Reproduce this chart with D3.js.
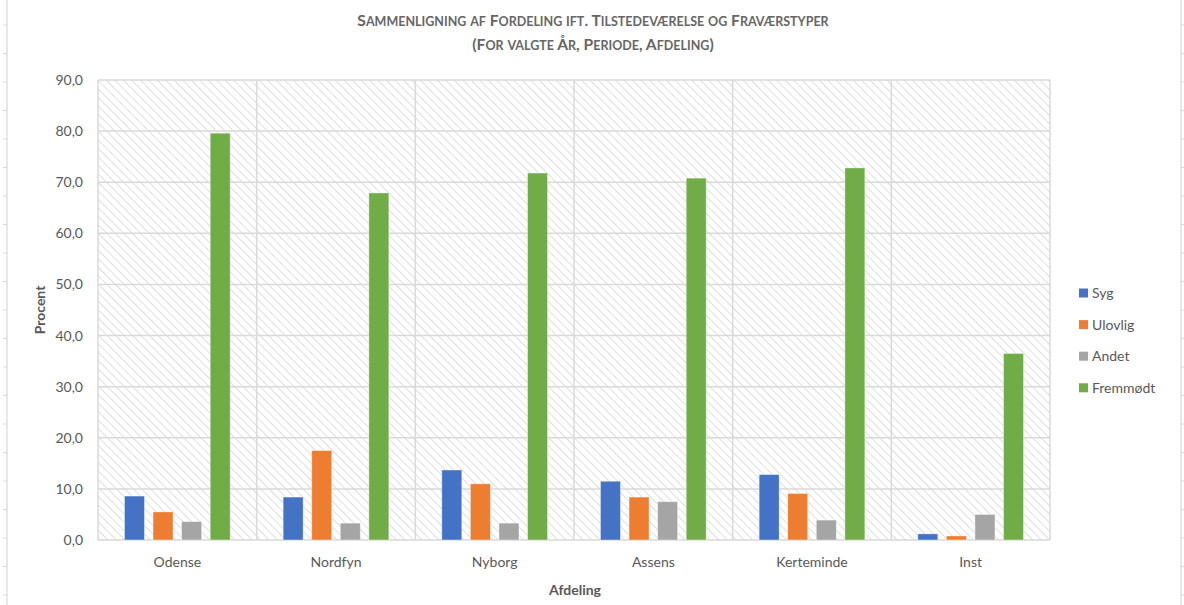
<!DOCTYPE html>
<html>
<head>
<meta charset="utf-8">
<script src="https://cdn.jsdelivr.net/npm/d3@7/dist/d3.min.js"></script>
<style>
html,body{margin:0;padding:0;background:#fff;}
svg{display:block;}
text{font-family:Lato,"Open Sans",sans-serif;}
</style>
</head>
<body>
<svg id="chart" width="1184" height="605"></svg>
<script>
const categories = ["Odense","Nordfyn","Nyborg","Assens","Kerteminde","Inst"];
const seriesNames = ["Syg","Ulovlig","Andet","Fremmødt"];
const seriesColors = ["#4472C4","#ED7D31","#A5A5A5","#70AD47"];
const syg      = [8.6, 8.4, 13.7, 11.5, 12.8, 1.2];
const ulovlig  = [5.5, 17.5, 11.0, 8.4, 9.1, 0.8];
const andet    = [3.6, 3.3, 3.3, 7.5, 3.9, 5.0];
const fremmodt = [79.6, 67.9, 71.8, 70.8, 72.8, 36.5];
const yTicks = [0,10,20,30,40,50,60,70,80,90];
const titleLines = ["Sammenligning af Fordeling ift. Tilstedeværelse og Fraværstyper","(For valgte År, Periode, Afdeling)"];
const seriesValues = [syg, ulovlig, andet, fremmodt];

const svg = d3.select("#chart");
const plot = {left:98, right:1050, top:80, bottom:540};

// spreadsheet borders around chart
const border = svg.append("g");
border.append("line").attr("x1",7).attr("x2",7).attr("y1",0).attr("y2",605).attr("stroke","#e0e0e0").attr("stroke-width",1.5);
border.append("line").attr("x1",1181).attr("x2",1181).attr("y1",0).attr("y2",605).attr("stroke","#e0e0e0").attr("stroke-width",1.5);
for(let y=25; y<605; y+=28.5){
  border.append("line").attr("x1",3).attr("x2",7).attr("y1",y).attr("y2",y).attr("stroke","#d8d8d8");
  border.append("line").attr("x1",1181).attr("x2",1184).attr("y1",y).attr("y2",y).attr("stroke","#d8d8d8");
}

// hatch pattern (lines from top-left to bottom-right)
const defs = svg.append("defs");
const pat = defs.append("pattern").attr("id","hatch").attr("patternUnits","userSpaceOnUse")
  .attr("width",6).attr("height",6).attr("patternTransform","rotate(-45)");
pat.append("rect").attr("width",6).attr("height",6).attr("fill","#ffffff");
pat.append("line").attr("x1",0).attr("x2",0).attr("y1",0).attr("y2",6).attr("stroke","#d6d6d6").attr("stroke-width",1.6);

const x = d3.scaleBand().domain(categories).range([plot.left, plot.right]).paddingInner(0).paddingOuter(0);
const y = d3.scaleLinear().domain([0,90]).range([plot.bottom, plot.top]);
const bw = x.bandwidth();
const xs = d3.scaleBand().domain(seriesNames).range([bw*0.1668, bw*0.8332]).paddingInner(0.3).paddingOuter(0);

svg.append("rect").attr("x",plot.left).attr("y",plot.top).attr("width",plot.right-plot.left).attr("height",plot.bottom-plot.top).attr("fill","url(#hatch)");

// grid
const grid = svg.append("g");
yTicks.forEach(t=>{
  grid.append("line").attr("x1",plot.left).attr("x2",plot.right).attr("y1",y(t)).attr("y2",y(t))
    .attr("stroke","#d9d9d9").attr("stroke-width",1.5);
});
categories.forEach((c,i)=>{
  grid.append("line").attr("x1",x(c)).attr("x2",x(c)).attr("y1",plot.top).attr("y2",plot.bottom).attr("stroke","#d9d9d9").attr("stroke-width",1.5);
});
grid.append("line").attr("x1",plot.right).attr("x2",plot.right).attr("y1",plot.top).attr("y2",plot.bottom).attr("stroke","#d9d9d9").attr("stroke-width",1.5);

// bars
seriesNames.forEach((s,si)=>{
  svg.append("g").selectAll("rect").data(categories).join("rect")
    .attr("x",c=>x(c)+xs(s))
    .attr("width",xs.bandwidth())
    .attr("y",(c,i)=>y(seriesValues[si][i]))
    .attr("height",(c,i)=>y(0)-y(seriesValues[si][i]))
    .attr("fill",seriesColors[si])
    .attr("stroke","#ffffff").attr("stroke-opacity",0.5).attr("stroke-width",0.8);
});

// y axis labels
const fmt = d3.format(".1f");
const yAxis = d3.axisLeft(y).tickValues(yTicks).tickSize(0).tickPadding(0).tickFormat(d=>fmt(d).replace(".",","));
const ya = svg.append("g").attr("transform",`translate(83,0)`).call(yAxis);
ya.select(".domain").remove();
ya.selectAll("text").attr("fill","#595959").attr("font-size",14).attr("font-family","Lato,sans-serif");

// x axis labels
const xAxis = d3.axisBottom(x).tickSize(0).tickPadding(0);
const xa = svg.append("g").attr("transform",`translate(0,557)`).call(xAxis);
xa.select(".domain").remove();
xa.selectAll("text").attr("fill","#595959").attr("font-size",14).attr("font-family","Lato,sans-serif");

// axis titles
svg.append("text").attr("x",575).attr("y",595).attr("text-anchor","middle").attr("font-weight","bold").attr("font-size",14).attr("fill","#595959").text("Afdeling");
svg.append("text").attr("transform","translate(45,310) rotate(-90)").attr("text-anchor","middle").attr("font-weight","bold").attr("font-size",14).attr("fill","#595959").text("Procent");

// title (manual small caps)
function smallCaps(textSel, str, big, small){
  const parts = [];
  let cur = null;
  for(const ch of str){
    const isLower = ch !== ch.toUpperCase();
    if(!cur || cur.lower !== isLower){ cur = {lower:isLower, s:""}; parts.push(cur); }
    cur.s += ch;
  }
  parts.forEach(p=>{
    textSel.append("tspan").attr("font-size", p.lower ? small : big).text(p.lower ? p.s.toUpperCase() : p.s);
  });
}
titleLines.forEach((line,i)=>{
  const t = svg.append("text").attr("x",593).attr("y",26 + i*24).attr("text-anchor","middle")
    .attr("font-weight","bold").attr("fill","#666666");
  smallCaps(t, line, 15.6, 12.5);
});

// legend
const lg = svg.append("g");
seriesNames.forEach((s,i)=>{
  const cy = 293 + i*31.6;
  lg.append("rect").attr("x",1079).attr("y",cy-4.5).attr("width",9).attr("height",9).attr("fill",seriesColors[i]);
  lg.append("text").attr("x",1092).attr("y",cy).attr("dy","0.35em").attr("font-size",14).attr("fill","#595959").text(s);
});
</script>
</body>
</html>
